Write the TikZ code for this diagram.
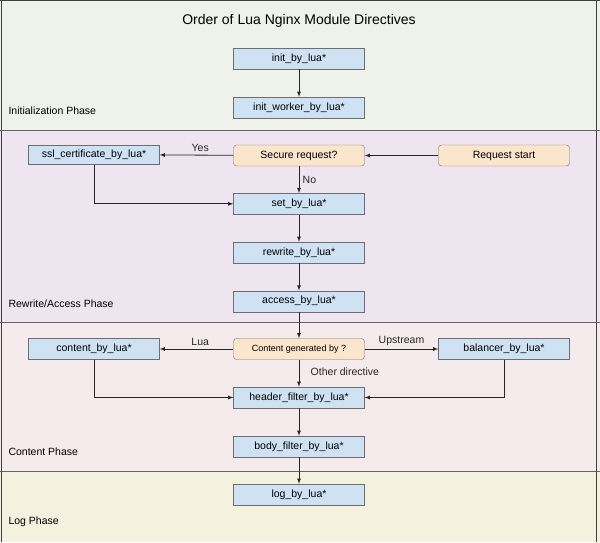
\documentclass[tikz,border=0pt]{standalone}
\usepackage{fontspec}
\setmainfont{Liberation Sans}
\usepackage{tikz}
\usetikzlibrary{arrows}

\definecolor{initbg}{HTML}{EEF2EA}
\definecolor{rewritebg}{HTML}{EFE5F1}
\definecolor{contentbg}{HTML}{F5EBEC}
\definecolor{logbg}{HTML}{F4F1DE}
\definecolor{boxblue}{HTML}{CFE2F3}
\definecolor{boxorange}{HTML}{FCE5CD}
\definecolor{edgegray}{HTML}{6E6E6E}

\tikzset{
  directive/.style={draw=edgegray, fill=boxblue, minimum width=131pt, minimum height=21pt, inner sep=0pt, font=\fontsize{10.5}{12}\selectfont},
  decision/.style={draw=edgegray, fill=boxorange, rounded corners=3pt, minimum width=131pt, minimum height=21pt, inner sep=0pt, font=\fontsize{10.5}{12}\selectfont},
  flow/.style={thick, black!85, -latex},
  phase/.style={anchor=west, font=\fontsize{10.5}{12}\selectfont},
  elabel/.style={font=\fontsize{10.5}{12}\selectfont}
}

\begin{document}
\begin{tikzpicture}[x=1pt, y=-1pt]

  \useasboundingbox (0,0) rectangle (600,542);

  % phase bands
  \fill[initbg]    (0,0)     rectangle (600,130);
  \fill[rewritebg] (0,130)   rectangle (600,322.7);
  \fill[contentbg] (0,322.7) rectangle (600,471);
  \fill[logbg]     (0,471)   rectangle (600,542);
  \draw[thick, black!60] (0,130) -- (600,130);
  \draw[thick, black!60] (0,322.7) -- (600,322.7);
  \draw[thick, black!60] (0,471) -- (600,471);
  \draw[thick, black!75] (1,0) -- (1,542);
  \draw[thick, black!75] (596.5,0) -- (596.5,542);
  \draw[thick, black!75] (0,0.5) -- (600,0.5);

  \node[font=\fontsize{14}{16}\selectfont] (title) at (299,20.5) {Order of Lua Nginx Module Directives};

  \node[phase] (initphase)    at (5,111)   {Initialization Phase};
  \node[phase] (rewritephase) at (5,304)   {Rewrite/Access Phase};
  \node[phase] (contentphase) at (5,451.5) {Content Phase};
  \node[phase] (logphase)     at (5,522)   {Log Phase};

  % directives
  \node[directive] (init)     at (299,58.5)  {init\_by\_lua*};
  \node[directive] (initw)    at (299,107.5) {init\_worker\_by\_lua*};
  \node[directive, minimum height=19.5pt] (ssl) at (94,154.7) {ssl\_certificate\_by\_lua*};
  \node[decision]  (secure)   at (299,155.5) {Secure request?};
  \node[decision]  (start)    at (504,155.5) {Request start};
  \node[directive] (set)      at (299,203.8) {set\_by\_lua*};
  \node[directive] (rewrite)  at (299,252.5) {rewrite\_by\_lua*};
  \node[directive] (access)   at (299,301.2) {access\_by\_lua*};
  \node[directive] (content)  at (94,349)    {content\_by\_lua*};
  \node[decision, font=\fontsize{9}{11}\selectfont] (gen) at (299,349) {Content generated by ?};
  \node[directive] (balancer) at (504,349)   {balancer\_by\_lua*};
  \node[directive] (header)   at (299,397.5) {header\_filter\_by\_lua*};
  \node[directive] (body)     at (299,446.5) {body\_filter\_by\_lua*};
  \node[directive] (log)      at (299,494.5) {log\_by\_lua*};

  % connectors
  \draw[flow] (init) -- (initw);
  \draw[flow] (start) -- (secure);
  \draw[flow] (secure) -- node[elabel, above, pos=0.45] {Yes} (ssl);
  \draw[flow] (secure) -- node[elabel, right, pos=0.5] {No} (set);
  \draw[flow] (ssl.south) |- (set.west);
  \draw[flow] (set) -- (rewrite);
  \draw[flow] (rewrite) -- (access);
  \draw[flow] (access) -- (gen);
  \draw[flow] (gen) -- node[elabel, above, pos=0.45] {Lua} (content);
  \draw[flow] (gen) -- node[elabel, above, pos=0.5] {Upstream} (balancer);
  \draw[flow] (gen) -- node[elabel, right, pos=0.45, xshift=8pt] {Other directive} (header);
  \draw[flow] (content.south) |- (header.west);
  \draw[flow] (balancer.south) |- (header.east);
  \draw[flow] (header) -- (body);
  \draw[flow] (body) -- (log);

\end{tikzpicture}
\end{document}
